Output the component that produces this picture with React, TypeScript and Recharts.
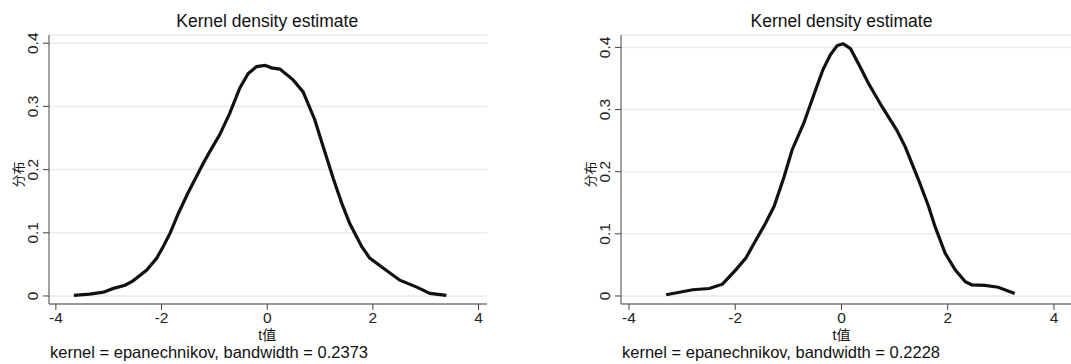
import React from 'react';
import { LineChart, Line, XAxis, YAxis, CartesianGrid } from 'recharts';

// values
const leftX = [-3.66, -3.36, -3.1, -2.91, -2.69, -2.54, -2.28, -2.09, -1.97, -1.84, -1.68, -1.5, -1.21, -1.09, -0.9, -0.71, -0.52, -0.36, -0.2, -0.04, 0.08, 0.24, 0.49, 0.68, 0.9, 1.06, 1.25, 1.41, 1.56, 1.79, 1.94, 2.2, 2.51, 2.83, 3.08, 3.39];
const leftY = [0.001, 0.003, 0.006, 0.012, 0.017, 0.024, 0.041, 0.06, 0.078, 0.099, 0.131, 0.163, 0.21, 0.228, 0.255, 0.289, 0.329, 0.352, 0.363, 0.365, 0.361, 0.359, 0.342, 0.323, 0.279, 0.236, 0.186, 0.147, 0.115, 0.078, 0.06, 0.044, 0.025, 0.014, 0.004, 0.001];

const rightX = [-3.3, -3.05, -2.8, -2.49, -2.24, -1.99, -1.8, -1.61, -1.43, -1.27, -1.08, -0.93, -0.71, -0.49, -0.35, -0.21, -0.08, 0.03, 0.17, 0.33, 0.51, 0.76, 1.04, 1.2, 1.45, 1.64, 1.76, 1.95, 2.14, 2.33, 2.45, 2.7, 2.95, 3.26];
const rightY = [0.002, 0.006, 0.01, 0.012, 0.019, 0.042, 0.061, 0.09, 0.117, 0.144, 0.192, 0.235, 0.278, 0.331, 0.364, 0.388, 0.403, 0.406, 0.398, 0.372, 0.342, 0.305, 0.267, 0.24, 0.187, 0.144, 0.112, 0.069, 0.042, 0.023, 0.018, 0.017, 0.014, 0.004];

const xTicks = [-4, -2, 0, 2, 4];
const yTicks = [0, 0.1, 0.2, 0.3, 0.4];

const FONT = '"Liberation Sans", Arial, "Noto Sans CJK SC", sans-serif';

const YTick = (props: any) => {
  const { x, y, payload } = props;
  return (
    <g transform={`translate(${x - 11},${y}) rotate(-90)`}>
      <text textAnchor="middle" dominantBaseline="central" fontSize={15.5} fill="#222" fontFamily={FONT}>
        {payload.value}
      </text>
    </g>
  );
};

interface PanelProps {
  xs: number[];
  ys: number[];
  left: number;
  width: number;
  yAxisWidth: number;
  rightMargin: number;
  xDomain: [number, number];
  yDomain: [number, number];
  bandwidth: string;
}

const Panel = ({ xs, ys, left, width, yAxisWidth, rightMargin, xDomain, yDomain, bandwidth }: PanelProps) => {
  const data = xs.map((x, i) => ({ x, y: ys[i] }));
  const plotLeft = yAxisWidth;
  const plotRight = width - rightMargin;
  // title and x label sit over x = 0
  const zeroX = plotLeft + ((0 - xDomain[0]) / (xDomain[1] - xDomain[0])) * (plotRight - plotLeft);
  return (
    <div style={{ position: 'absolute', left, top: 0, width, height: 364, fontFamily: FONT, color: '#111' }}>
      <LineChart width={width} height={364} data={data} margin={{ top: 35, right: rightMargin, bottom: 0, left: 0 }}>
        <CartesianGrid vertical={false} stroke="#ebebeb" strokeWidth={1.5} />
        <XAxis
          type="number"
          dataKey="x"
          domain={xDomain}
          ticks={xTicks}
          allowDataOverflow
          height={60}
          stroke="#444"
          tickSize={6}
          tick={{ fontSize: 15.5, fill: '#222', fontFamily: FONT }}
        />
        <YAxis
          type="number"
          domain={yDomain}
          ticks={yTicks}
          allowDataOverflow
          width={yAxisWidth}
          stroke="#444"
          tickSize={6}
          tickMargin={0}
          tick={<YTick />}
        />
        <Line
          type="linear"
          dataKey="y"
          stroke="#111"
          strokeWidth={3.2}
          dot={false}
          isAnimationActive={false}
        />
      </LineChart>
      <div style={{ position: 'absolute', left: zeroX - 150, width: 300, top: 11, textAlign: 'center', fontSize: 17.5 }}>
        Kernel density estimate
      </div>
      <div style={{ position: 'absolute', left: zeroX - 50, width: 100, top: 324, textAlign: 'center', fontSize: 14 }}>
        t值
      </div>
      <div
        style={{
          position: 'absolute',
          left: yAxisWidth - 32 - 20,
          top: 165,
          width: 40,
          textAlign: 'center',
          fontSize: 13,
          transform: 'rotate(-90deg)',
        }}
      >
        分布
      </div>
      <div style={{ position: 'absolute', left: plotLeft + 1, top: 343, fontSize: 16.5, whiteSpace: 'nowrap' }}>
        kernel = epanechnikov, bandwidth = {bandwidth}
      </div>
    </div>
  );
};

export default function App() {
  return (
    <div style={{ position: 'absolute', left: 0, top: 0, width: 1071, height: 364, background: '#fff', overflow: 'hidden' }}>
      <Panel
        xs={leftX}
        ys={leftY}
        left={0}
        width={540}
        yAxisWidth={49}
        rightMargin={53}
        xDomain={[-4.13, 4.16]}
        yDomain={[-0.0127, 0.413]}
        bandwidth="0.2373"
      />
      <Panel
        xs={rightX}
        ys={rightY}
        left={535}
        width={536}
        yAxisWidth={86}
        rightMargin={0}
        xDomain={[-4.15, 4.32]}
        yDomain={[-0.0129, 0.42]}
        bandwidth="0.2228"
      />
    </div>
  );
}
